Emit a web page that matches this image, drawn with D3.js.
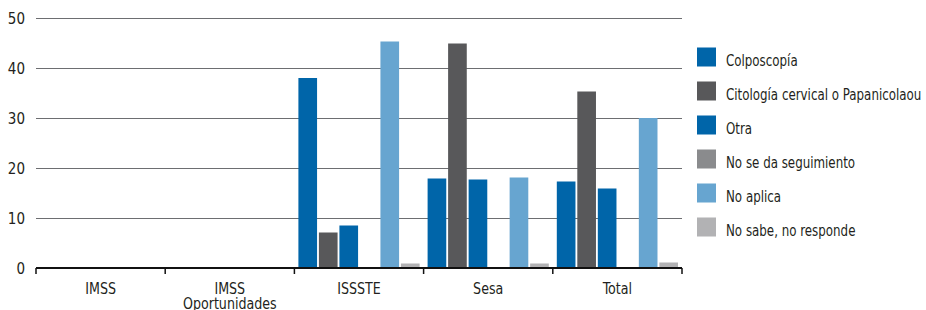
<!DOCTYPE html>
<html>
<head>
<meta charset="utf-8">
<script src="https://cdn.jsdelivr.net/npm/d3@7"></script>
<style>
  body { margin: 0; background: #fff; }
  svg text { font-family: "Liberation Sans Narrow", "DejaVu Sans Condensed", sans-serif; fill: #231f20; }
  .grid line { stroke: #6d6e71; stroke-width: 1; shape-rendering: crispEdges; }
  .grid .domain { display: none; }
</style>
</head>
<body>
<div id="chart"></div>
<script>
// -- data --
var categories = ["IMSS", "IMSS\nOportunidades", "ISSSTE", "Sesa", "Total"];
var series = ["Colposcopía", "Citología cervical o Papanicolaou", "Otra",
              "No se da seguimiento", "No aplica", "No sabe, no responde"];
var colposcopia = [0, 0, 38.0, 17.9, 17.3];
var citologia   = [0, 0, 7.1, 44.9, 35.3];
var otra        = [0, 0, 8.5, 17.7, 15.9];
var noSeDa      = [0, 0, 0, 0, 0];
var noAplica    = [0, 0, 45.3, 18.1, 30.0];
var noSabe      = [0, 0, 0.9, 0.9, 1.1];
var yTicks = [0, 10, 20, 30, 40, 50];

var values = [colposcopia, citologia, otra, noSeDa, noAplica, noSabe];
var colors = ["#0065a9", "#58585a", "#0065a9", "#8a8b8d", "#67a5d0", "#b2b2b4"];

// condensed look: squeeze the text horizontally
var squeeze = "scale(0.88,1)";

var visualize = function() {
  var width = 926, height = 310;
  var left = 36, right = 682, top = 18, bottom = 268;

  var svg = d3.select("#chart")
    .append("svg")
    .attr("width", width)
    .attr("height", height);

  // == scales ==
  var y = d3.scaleLinear().domain([0, 50]).range([bottom, top]);

  var x = d3.scaleBand()
    .domain(categories)
    .range([left, right])
    .padding(0);

  var x1 = d3.scaleBand()
    .domain(series)
    .range([4, x.bandwidth() - 4])
    .paddingInner(0.09);

  // -- grid lines + y labels --
  var y_axis = d3.axisLeft(y)
    .tickValues(yTicks)
    .tickSize(-(right - left))
    .tickPadding(11);

  svg.append("g")
    .attr("class", "grid")
    .attr("transform", "translate(" + left + ",0)")
    .call(y_axis)
    .selectAll("text")
    .style("font-size", "15px")
    .attr("dy", "0.36em");

  // == bars ==
  var groups = svg.selectAll("g.cat")
    .data(categories)
    .enter()
    .append("g")
    .attr("class", "cat")
    .attr("transform", function (d) { return "translate(" + x(d) + ",0)"; });

  groups.selectAll("rect")
    .data(function (d, i) {
      return series.map(function (s, j) { return { s: s, j: j, v: values[j][i] }; });
    })
    .enter()
    .append("rect")
    .attr("x", function (d) { return x1(d.s); })
    .attr("width", x1.bandwidth())
    .attr("y", function (d) { return y(d.v); })
    .attr("height", function (d) { return y(0) - y(d.v); })
    .attr("fill", function (d) { return colors[d.j]; });

  // -- baseline and category ticks --
  svg.append("line")
    .attr("x1", left).attr("x2", right)
    .attr("y1", y(0)).attr("y2", y(0))
    .attr("stroke", "#111")
    .attr("stroke-width", 2);

  var bounds = categories.map(function (c) { return x(c); }).concat([right]);
  svg.selectAll("line.cattick")
    .data(bounds)
    .enter()
    .append("line")
    .attr("class", "cattick")
    .attr("x1", function (d) { return d; })
    .attr("x2", function (d) { return d; })
    .attr("y1", y(0))
    .attr("y2", y(0) + 6)
    .attr("stroke", "#111")
    .attr("stroke-width", 1.5);

  var labels = svg.selectAll("text.cat")
    .data(categories)
    .enter()
    .append("text")
    .attr("class", "cat")
    .attr("text-anchor", "middle")
    .style("font-size", "16px")
    .attr("transform", function (d) {
      return "translate(" + (x(d) + x.bandwidth() / 2) + ",294) " + squeeze;
    });

  labels.selectAll("tspan")
    .data(function (d) { return d.split("\n"); })
    .enter()
    .append("tspan")
    .attr("x", 0)
    .attr("dy", function (d, i) { return i == 0 ? 0 : 15; })
    .text(function (d) { return d; });

  // == legend ==
  var legend = svg.selectAll("g.legend")
    .data(series)
    .enter()
    .append("g")
    .attr("class", "legend")
    .attr("transform", function (d, i) { return "translate(697," + (47.5 + i * 34) + ")"; });

  legend.append("rect")
    .attr("width", 19)
    .attr("height", 19)
    .attr("fill", function (d, i) { return colors[i]; });

  legend.append("text")
    .attr("transform", "translate(29,18.5) " + squeeze)
    .style("font-size", "15px")
    .text(function (d) { return d; });
};

visualize();
</script>
</body>
</html>
